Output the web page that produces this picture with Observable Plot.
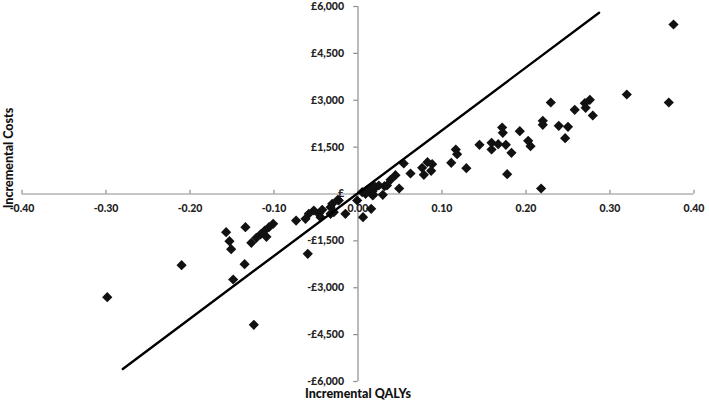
<!DOCTYPE html>
<html><head><meta charset="utf-8">
<script src="https://cdn.jsdelivr.net/npm/d3@7"></script>
<script src="https://cdn.jsdelivr.net/npm/@observablehq/plot@0.6"></script>
<style>body{margin:0;background:#fff;} svg{display:block;}</style>
</head><body><div id="chart"></div>
<script>
// Incremental QALYs (x) and incremental costs in £ (y), one entry per simulation
const qalys = [
  0.3756, 0.370, 0.320, 0.2295, 0.276, 0.270, 0.271, 0.258, 0.2795, 0.220,
  0.220, 0.239, 0.250, 0.2466, 0.1926, 0.1716, 0.1724, 0.2026, 0.2054, 0.176,
  0.1669, 0.159, 0.159, 0.1446, 0.1827, 0.1776, 0.218, 0.1164, 0.118, 0.111,
  0.129, 0.0827, 0.0883, 0.0764, 0.0871, 0.0784, 0.0625, 0.0545, 0.0446, 0.049,
  0.0387, 0.0315, 0.0345, 0.0248, 0.0208, 0.0188, 0.0129, 0.010, 0.0173, 0.005,
  0.009, 0.018, 0.0295, 0.0176, 0.0157, 0.006, -0.001, -0.015,
  -0.024, -0.0229, -0.0307, -0.0327, -0.0288, -0.0327, -0.0426, -0.0467, -0.0526, -0.0586,
  -0.0446, -0.0625, -0.0737,
  -0.101, -0.106, -0.111, -0.116, -0.109, -0.121, -0.127, -0.134, -0.157, -0.153,
  -0.151, -0.1486, -0.135, -0.124, -0.0598, -0.210, -0.2985
];
const costs = [
  5424, 2928, 3184, 2928, 3014, 2906, 2758, 2694, 2512, 2342,
  2214, 2182, 2150, 1787, 2010, 2128, 1958, 1702, 1530, 1574,
  1594, 1638, 1424, 1574, 1318, 634, 176, 1424, 1274, 998,
  826, 1018, 954, 838, 742, 614, 656, 976, 602, 176,
  454, 250, 272, 272, 218, 240, 112, 112, 90, 58,
  6, -16, -26, -48, -474, -742, -208, -634,
  -186, -208, -314, -422, -582, -634, -506, -634, -528, -634,
  -742, -794, -850,
  -954, -1062, -1168, -1290, -1370, -1402, -1562, -1062, -1222, -1510,
  -1766, -2736, -2246, -4186, -1914, -2278, -3302
];
// £20,000 per QALY threshold line end points
const thresholdQ = [-0.280, 0.287];
const thresholdC = [-5600, 5800];

const xTicks = [-0.4, -0.3, -0.2, -0.1, 0, 0.1, 0.2, 0.3, 0.4];
const xTickLabels = ["-0.40", "-0.30", "-0.20", "-0.10", "0.00", "0.10", "0.20", "0.30", "0.40"];
const yTicks = [-6000, -4500, -3000, -1500, 0, 1500, 3000, 4500, 6000];
const yTickLabels = ["-£6,000", "-£4,500", "-£3,000", "-£1,500", "£", "£1,500", "£3,000", "£4,500", "£6,000"];

const points = qalys.map((q, i) => ({q, c: costs[i]}));
const threshold = thresholdQ.map((q, i) => ({q, c: thresholdC[i]}));
const xt = xTicks.map((v, i) => ({v, label: xTickLabels[i]}));
const yt = yTicks.map((v, i) => ({v, label: yTickLabels[i]}));

const font = "Lato, 'Open Sans', sans-serif";
const axisColor = "#8c8c8c";
const textColor = "#222";

const chart = Plot.plot({
  width: 709,
  height: 402,
  marginLeft: 21.5,
  marginRight: 15.5,
  marginTop: 6,
  marginBottom: 21,
  style: {fontFamily: font, background: "#fff"},
  x: {domain: [-0.4, 0.4], axis: null},
  y: {domain: [-6000, 6000], axis: null},
  marks: [
    // axes crossing at origin
    Plot.ruleY([0], {x1: -0.4, x2: 0.4, stroke: axisColor, strokeWidth: 1.2}),
    Plot.ruleX([0], {y1: -6000, y2: 6000, stroke: axisColor, strokeWidth: 1.2}),
    Plot.ruleX(xt, {x: "v", y1: 0, y2: 120, stroke: axisColor, strokeWidth: 1.2}),
    Plot.ruleY(yt, {y: "v", x1: -0.005, x2: 0, stroke: axisColor, strokeWidth: 1.2}),
    Plot.text(xt, {x: "v", y: () => 0, text: "label", dy: 15, fill: textColor,
      fontSize: 10.5, fontWeight: 900, textAnchor: "middle", lineAnchor: "middle"}),
    Plot.text(yt, {x: () => 0, y: "v", text: "label", dx: -14, fill: textColor,
      fontSize: 10.5, fontWeight: 900, textAnchor: "end", lineAnchor: "middle"}),
    // data
    Plot.dot(points, {x: "q", y: "c", symbol: "diamond2", r: 4.6, fill: "#111", stroke: "none"}),
    Plot.line(threshold, {x: "q", y: "c", stroke: "#000", strokeWidth: 2.4}),
    // axis titles
    Plot.text(["Incremental QALYs"], {x: () => 0, y: () => -6000, text: d => d, dy: 12,
      fill: "#111", fontSize: 12.5, fontWeight: 900, textAnchor: "middle", lineAnchor: "middle"}),
    Plot.text(["Incremental Costs"], {x: () => -0.4, y: () => 0, text: d => d, rotate: -90, dx: -13.5, dy: -36,
      fill: "#111", fontSize: 12.5, fontWeight: 900, textAnchor: "middle", lineAnchor: "middle"})
  ]
});
document.getElementById("chart").appendChild(chart);
</script>
</body></html>
